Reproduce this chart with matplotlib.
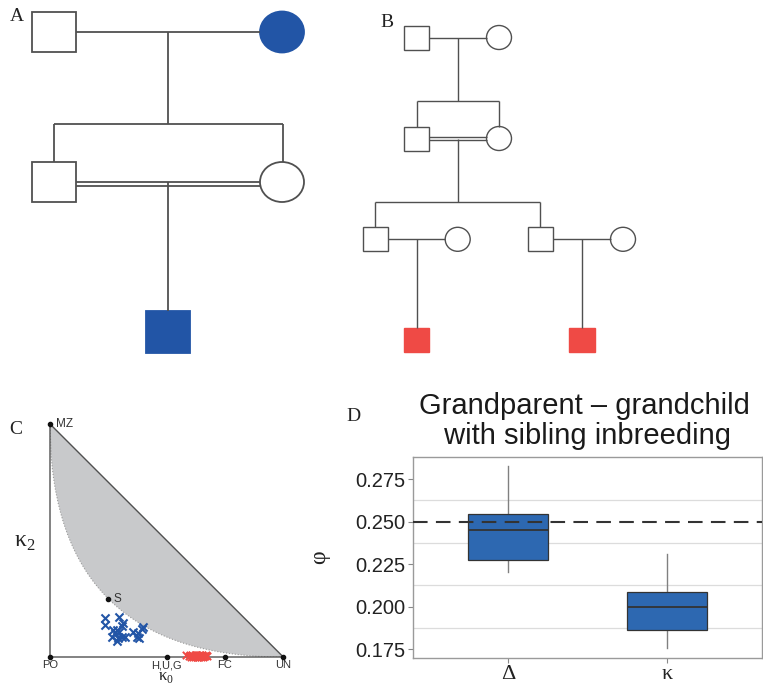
import matplotlib.pyplot as plt
from matplotlib.patches import Rectangle, Ellipse, Polygon
import numpy as np

plt.rcParams['font.family'] = ['Liberation Sans', 'DejaVu Sans']
plt.rcParams['mathtext.fontset'] = 'custom'
plt.rcParams['mathtext.rm'] = 'Liberation Serif'

# simulated pairs on the (k0, k2) triangle
blue_k0 = [0.236, 0.236, 0.297, 0.312, 0.310, 0.271, 0.286, 0.297, 0.279, 0.264,
           0.293, 0.307, 0.321, 0.286, 0.357, 0.378, 0.393, 0.400, 0.372, 0.383]
blue_k2 = [0.167, 0.137, 0.173, 0.144, 0.133, 0.116, 0.116, 0.108, 0.102, 0.084,
           0.080, 0.084, 0.087, 0.070, 0.108, 0.102, 0.119, 0.127, 0.087, 0.080]
red_k0 = [0.585, 0.595, 0.600, 0.605, 0.610, 0.612, 0.615, 0.620, 0.622, 0.625,
          0.628, 0.630, 0.632, 0.635, 0.638, 0.640, 0.642, 0.645, 0.648, 0.650,
          0.652, 0.655, 0.660, 0.665, 0.670, 0.675, 0.620, 0.630, 0.640, 0.650]
red_k2 = [0.008, 0.004, 0.010, 0.002, 0.008, 0.000, 0.006, 0.009, 0.003, 0.007,
          0.001, 0.009, 0.005, 0.000, 0.006, 0.010, 0.003, 0.008, 0.001, 0.006,
          0.009, 0.002, 0.006, 0.004, 0.007, 0.003, 0.000, 0.005, 0.001, 0.009]

# reference relationships
ref_names = ['MZ', 'PO', 'H,U,G', 'FC', 'UN', 'S']
ref_k0 = [0.0, 0.0, 0.5, 0.75, 1.0, 0.25]
ref_k2 = [1.0, 0.0, 0.0, 0.0, 0.0, 0.25]

# kinship estimates (box summaries)
box_labels = ['Δ', 'κ']
box_whislo = [0.2206, 0.1757]
box_q1 = [0.2274, 0.1865]
box_med = [0.2449, 0.1998]
box_q3 = [0.2543, 0.2086]
box_whishi = [0.2831, 0.2312]
expected_phi = 0.25

BLUE = '#2255a6'
RED = '#ef4a45'
LINE = '#505050'

W, H = 763, 685
fig = plt.figure(figsize=(W / 100, H / 100), dpi=100)

# pedigrees drawn in pixel units on a full-figure axes
ov = fig.add_axes([0, 0, 1, 1])
ov.set_xlim(0, W)
ov.set_ylim(H, 0)
ov.axis('off')


def seg(x0, y0, x1, y1, lw):
    ov.plot([x0, x1], [y0, y1], color=LINE, lw=lw, solid_capstyle='butt')


def male(x, y, w, h, lw, fc='white'):
    ec = LINE if fc == 'white' else fc
    ov.add_patch(Rectangle((x, y), w, h, fc=fc, ec=ec, lw=lw))


def female(cx, cy, w, h, lw, fc='white'):
    ec = LINE if fc == 'white' else fc
    ov.add_patch(Ellipse((cx, cy), w, h, fc=fc, ec=ec, lw=lw))


# --- A: grandparent / grandchild with sibling mating
lwa = 1.3
seg(76, 32, 260, 32, lwa)
seg(168, 32, 168, 124, lwa)
seg(53.7, 124, 282.7, 124, lwa)
seg(53.7, 124, 53.7, 162, lwa)
seg(282.7, 124, 282.7, 162, lwa)
seg(76, 181.5, 260, 181.5, lwa)
seg(76, 185.5, 260, 185.5, lwa)
seg(168, 182, 168, 311, lwa)
male(32, 12, 44, 40, lwa)
female(282, 32, 44, 41, lwa, fc=BLUE)
male(32, 162, 44, 40, lwa)
female(282, 182, 44, 40, lwa)
male(146, 311, 44, 42, lwa, fc=BLUE)

# --- B: first cousins with sibling mating
lwb = 1.0
seg(429, 37.5, 486.5, 37.5, lwb)
seg(457.7, 37.5, 457.7, 101, lwb)
seg(416.7, 101, 499, 101, lwb)
seg(416.7, 101, 416.7, 127, lwb)
seg(499, 101, 499, 126.5, lwb)
seg(429, 137, 486.5, 137, lwb)
seg(429, 140, 486.5, 140, lwb)
seg(457.7, 138.5, 457.7, 202, lwb)
seg(375, 202, 540.3, 202, lwb)
seg(375, 202, 375, 227.3, lwb)
seg(540.3, 202, 540.3, 227.3, lwb)
seg(388, 239.3, 445.2, 239.3, lwb)
seg(416.7, 239.3, 416.7, 328, lwb)
seg(553.3, 239.3, 610.5, 239.3, lwb)
seg(581.7, 239.3, 581.7, 328, lwb)
male(404, 26, 25, 23.5, lwb)
female(499, 37.5, 25, 24, lwb)
male(404, 127, 25, 23.5, lwb)
female(499, 138.5, 25, 24, lwb)
male(362.7, 227.3, 25.3, 24, lwb)
female(457.7, 239.3, 25, 24, lwb)
male(528, 227.3, 25.3, 24, lwb)
female(623, 239.3, 25, 24, lwb)
male(404, 328, 25.3, 24, lwb, fc=RED)
male(569.3, 328, 25.3, 24, lwb, fc=RED)

# panel letters
for letter, x, y in [('A', 17, 16), ('B', 387, 22), ('C', 16, 429), ('D', 353, 416)]:
    ov.text(x, y, letter, family='Liberation Serif', fontsize=14,
            ha='center', va='center', color='#222222')

# --- C: kappa triangle
axc = fig.add_axes([50 / W, 28 / H, 233.3 / W, 233 / H])
axc.set_xlim(0, 1)
axc.set_ylim(0, 1)
axc.axis('off')

k = np.linspace(0, 1, 200)
curve = (1 - np.sqrt(k)) ** 2
region = np.column_stack([np.r_[k, 0.0], np.r_[curve, 1.0]])
axc.add_patch(Polygon(region, closed=True, fc='#c8c9cb', ec='none', zorder=1))
axc.plot(k, curve, color='#9a9a9a', lw=0.8, ls=':', zorder=2)
axc.plot([0, 0, 1, 0], [1, 0, 0, 1], color=LINE, lw=1.0, zorder=3, clip_on=False)

axc.scatter(blue_k0, blue_k2, marker='x', s=34, color=BLUE, lw=1.5,
            zorder=4, clip_on=False)
axc.scatter(red_k0, red_k2, marker='x', s=28, color=RED, lw=1.4,
            zorder=4, clip_on=False)
axc.scatter(ref_k0, ref_k2, s=9, color='#111111', zorder=5, clip_on=False)

for name, x0, y0 in zip(ref_names, ref_k0, ref_k2):
    if name in ('MZ', 'S'):
        axc.annotate(name, (x0, y0), xytext=(4, 0), textcoords='offset points',
                     ha='left', va='center', fontsize=8.5, color='#333333')
    else:
        axc.annotate(name, (x0, y0), xytext=(0, -2.5), textcoords='offset points',
                     ha='center', va='top', fontsize=8, color='#333333')

ov.text(25, 542, r'$\mathrm{κ}_2$', fontsize=17, ha='center', va='center',
        color='#222222')
ov.text(166, 685, r'$\mathrm{κ}_0$', fontsize=12, ha='center', va='bottom',
        color='#222222')

# --- D: kinship boxplot
axd = fig.add_axes([412.7 / W, 27.3 / H, 349.5 / W, 201 / H])
stats = []
for i in range(len(box_labels)):
    stats.append({'whislo': box_whislo[i], 'q1': box_q1[i], 'med': box_med[i],
                  'q3': box_q3[i], 'whishi': box_whishi[i], 'fliers': []})
bp = axd.bxp(stats, positions=[1, 2], widths=0.5, patch_artist=True,
             showcaps=False, showfliers=False,
             boxprops=dict(facecolor='#2d68b1', edgecolor='#333333', lw=0.9),
             medianprops=dict(color='#333333', lw=1.3),
             whiskerprops=dict(color='#808080', lw=1.0))
for w in bp['whiskers']:
    w.set_zorder(1)
axd.axhline(expected_phi, color='#333333', lw=1.5, dashes=(7, 4), zorder=3)

axd.set_xlim(0.4, 2.6)
axd.set_ylim(0.1699, 0.2883)
axd.set_yticks([0.175, 0.2, 0.225, 0.25, 0.275])
axd.set_yticklabels(['0.175', '0.200', '0.225', '0.250', '0.275'])
axd.set_yticks([0.1875, 0.2125, 0.2375, 0.2625], minor=True)
axd.grid(which='minor', axis='y', color='#dcdcdc', lw=0.9)
axd.set_axisbelow(True)
axd.set_xticks([1, 2])
axd.set_xticklabels(box_labels, family='Liberation Serif', fontsize=16)
axd.tick_params(axis='y', which='major', labelsize=14.5, length=3.5,
                color='#888888', labelcolor='#222222', pad=2)
axd.tick_params(axis='y', which='minor', length=0)
axd.tick_params(axis='x', length=3.5, color='#888888', labelcolor='#222222', pad=2)
for sp in axd.spines.values():
    sp.set_color('#9a9a9a')
    sp.set_linewidth(1.0)
axd.set_ylabel('φ', family='Liberation Serif', fontsize=17, color='#222222',
               labelpad=18)
axd.set_title('Grandparent – grandchild\n with sibling inbreeding',
              fontsize=21, color='#1a1a1a', linespacing=1.1, pad=9, x=0.49)

fig.savefig('out.png', dpi=100)
